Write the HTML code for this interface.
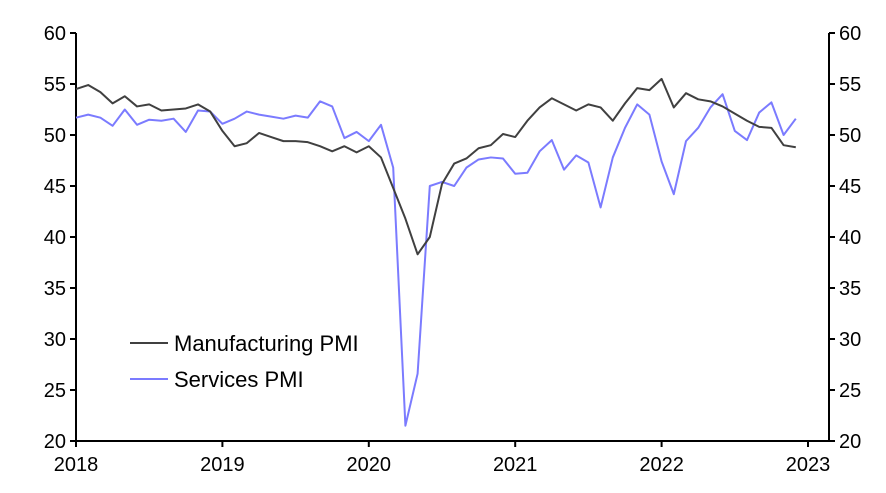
<!DOCTYPE html>
<html><head><meta charset="utf-8"><style>
body{margin:0;background:#fff}
svg{font-family:"Liberation Sans",sans-serif;display:block}
</style></head><body>
<svg id="c" width="886" height="493"></svg>
<script>
const years=["2018","2019","2020","2021","2022","2023"];
const yTicks=[20,25,30,35,40,45,50,55,60];
const manufacturing=[54.5,54.9,54.2,53.1,53.8,52.8,53.0,52.4,52.5,52.6,53.0,52.3,
50.4,48.9,49.2,50.2,49.8,49.4,49.4,49.3,48.9,48.4,48.9,48.3,
48.9,47.8,44.8,41.8,38.3,40.0,45.2,47.2,47.7,48.7,49.0,50.1,
49.8,51.4,52.7,53.6,53.0,52.4,53.0,52.7,51.4,53.1,54.6,54.4,
55.5,52.7,54.1,53.5,53.3,52.8,52.1,51.4,50.8,50.7,49.0,48.8];
const services=[51.7,52.0,51.7,50.9,52.5,51.0,51.5,51.4,51.6,50.3,52.4,52.3,
51.1,51.6,52.3,52.0,51.8,51.6,51.9,51.7,53.3,52.8,49.7,50.3,
49.4,51.0,46.8,21.5,26.6,45.0,45.4,45.0,46.8,47.6,47.8,47.7,
46.2,46.3,48.4,49.5,46.6,48.0,47.3,42.9,47.8,50.7,53.0,52.0,
47.4,44.2,49.4,50.7,52.7,54.0,50.4,49.5,52.2,53.2,50.0,51.6];
const NS="http://www.w3.org/2000/svg",svg=document.getElementById('c');
const L=76,R=829,T=33,B=441,MS=12.2;
const x=i=>L+i*MS, y=v=>T+(60-v)*(B-T)/40;
function el(t,a,p){const e=document.createElementNS(NS,t);for(const k in a)e.setAttribute(k,a[k]);(p||svg).appendChild(e);return e;}
let ax=el('line',{x1:L,y1:T,x2:L,y2:B,stroke:'#000','stroke-width':2});

ax=el('line',{x1:R,y1:T,x2:R,y2:B,stroke:'#000','stroke-width':2});

ax=el('line',{x1:L,y1:B,x2:R,y2:B,stroke:'#000','stroke-width':2});

yTicks.forEach(v=>{
 el('line',{x1:L-6,y1:y(v),x2:L,y2:y(v),stroke:'#000','stroke-width':2});
 el('line',{x1:R,y1:y(v),x2:R+6,y2:y(v),stroke:'#000','stroke-width':2});
 let t=el('text',{x:L-10,y:y(v)+7,'text-anchor':'end','font-size':20});t.textContent=v;
 
 t=el('text',{x:R+10,y:y(v)+7,'font-size':20});t.textContent=v;
 
});
years.forEach((yr,i)=>{
 const xx=x(i*12);
 el('line',{x1:xx,y1:B,x2:xx,y2:B+6,stroke:'#000','stroke-width':2});
 const t=el('text',{x:xx,y:B+30,'text-anchor':'middle','font-size':20});t.textContent=yr;
 
});
function line(d,c,n){const p=el('polyline',{points:d.map((v,i)=>x(i)+','+y(v)).join(' '),fill:'none',stroke:c,'stroke-width':2,'stroke-linejoin':'round'});
 }
line(services,'#7b7bff','services-pmi-line');
line(manufacturing,'#404040','manufacturing-pmi-line');
[['Manufacturing PMI','#404040',343,'legend-manufacturing'],['Services PMI','#7b7bff',379,'legend-services']].forEach(([n,c,yy,dn])=>{
 const g=el('g',{});
 el('line',{x1:130,y1:yy,x2:168,y2:yy,stroke:c,'stroke-width':2},g);
 const t=el('text',{x:174,y:yy+8,'font-size':22},g);t.textContent=n;
});
</script>
</body></html>
